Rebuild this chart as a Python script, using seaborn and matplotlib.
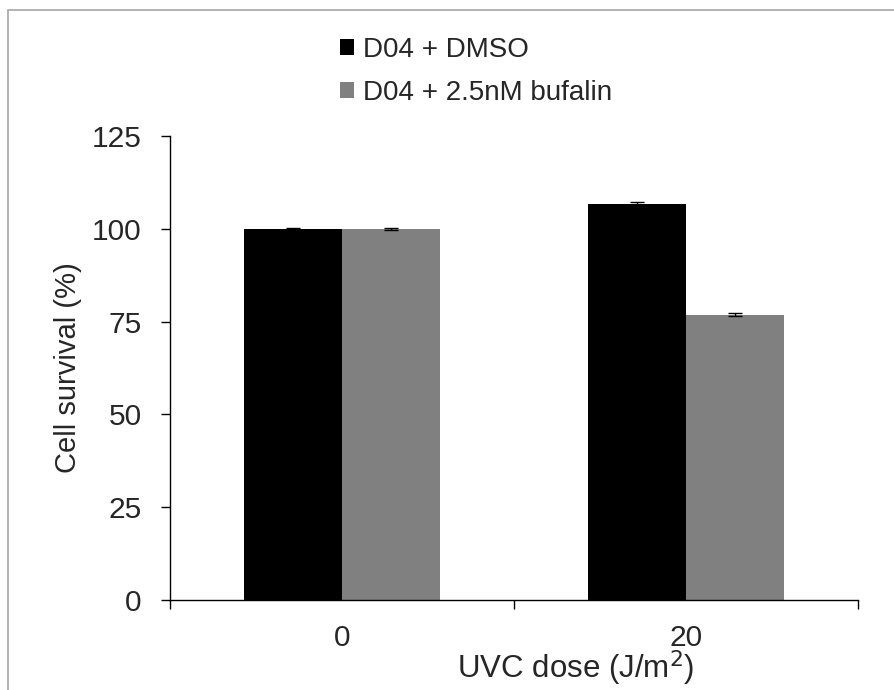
import matplotlib
matplotlib.use("Agg")
import matplotlib.pyplot as plt
import seaborn as sns
import pandas as pd
import numpy as np
from matplotlib.patches import Rectangle, Patch

sns.set_theme(style="white")
plt.rcParams['font.family'] = ['Liberation Sans', 'DejaVu Sans']

doses = ["0", "20"]
series = ["D04 + DMSO", "D04 + 2.5nM bufalin"]
dmso = [100.0, 106.8]
bufalin = [100.0, 76.9]
dmso_err = [0.3, 0.5]
bufalin_err = [0.3, 0.3]
colors = ["#000000", "#808080"]
yticks = [0, 25, 50, 75, 100, 125]

rows = []
for i, d in enumerate(doses):
    rows.append({"dose": d, "series": series[0], "value": dmso[i], "err": dmso_err[i]})
    rows.append({"dose": d, "series": series[1], "value": bufalin[i], "err": bufalin_err[i]})
df = pd.DataFrame(rows)

W, H = 894, 690
fig = plt.figure(figsize=(W/100, H/100), dpi=100)
ax = fig.add_axes([170/W, 90/H, 688/W, 464/H])

sns.barplot(data=df, x="dose", y="value", hue="series", order=doses, hue_order=series,
            palette=colors, width=0.57, errorbar=None, saturation=1, ax=ax, legend=False,
            linewidth=0)

# error bars placed on the bar patches
bars = [p for p in ax.patches if p.get_width() > 0]
for p in bars:
    xc = p.get_x() + p.get_width()/2
    h = p.get_height()
    match = df[np.isclose(df["value"], h)]
    e = match["err"].iloc[0] if len(match) else 0.3
    ax.errorbar(xc, h, yerr=e, fmt="none", ecolor="black", elinewidth=1, capsize=5, capthick=1)

ax.set_xlim(-0.5, 1.5)
ax.set_ylim(0, 125)
ax.set_yticks(yticks)
ax.set_yticklabels([str(t) for t in yticks], fontsize=21.5)
ax.tick_params(axis="y", direction="out", length=6.5, width=1, color="black", pad=14, left=True)
ax.set_xticks([0, 1])
ax.set_xticklabels(doses, fontsize=21.5)
ax.tick_params(axis="x", which="major", length=0, pad=17)
ax.set_xticks([-0.5, 0.5, 1.5], minor=True)
ax.tick_params(axis="x", which="minor", direction="out", length=6.5, width=1, color="black", bottom=True)

for s in ["top", "right"]:
    ax.spines[s].set_visible(False)
for s in ["left", "bottom"]:
    ax.spines[s].set_color("black")
    ax.spines[s].set_linewidth(1)

ax.set_xlabel("UVC dose (J/m$^2$)", fontsize=22.5)
ax.xaxis.set_label_coords((576-170)/688, -(648-600)/464)
ax.set_ylabel("Cell survival (%)", fontsize=21, labelpad=7)

handles = [Patch(facecolor=c, edgecolor="none") for c in colors]
fig.legend(handles, series, loc="upper left", bbox_to_anchor=(340/W, 1 - 37/H),
           frameon=False, fontsize=20, handlelength=0.5, handleheight=0.5,
           handletextpad=0.32, labelspacing=0.6, borderaxespad=0, borderpad=0)

fig.patches.append(Rectangle((8/W, -0.1), 1.2, (H-10)/H + 0.1, transform=fig.transFigure,
                             fill=False, edgecolor="#a6a6a6", linewidth=1.2, zorder=-1))

fig.savefig("out.png", dpi=100)
